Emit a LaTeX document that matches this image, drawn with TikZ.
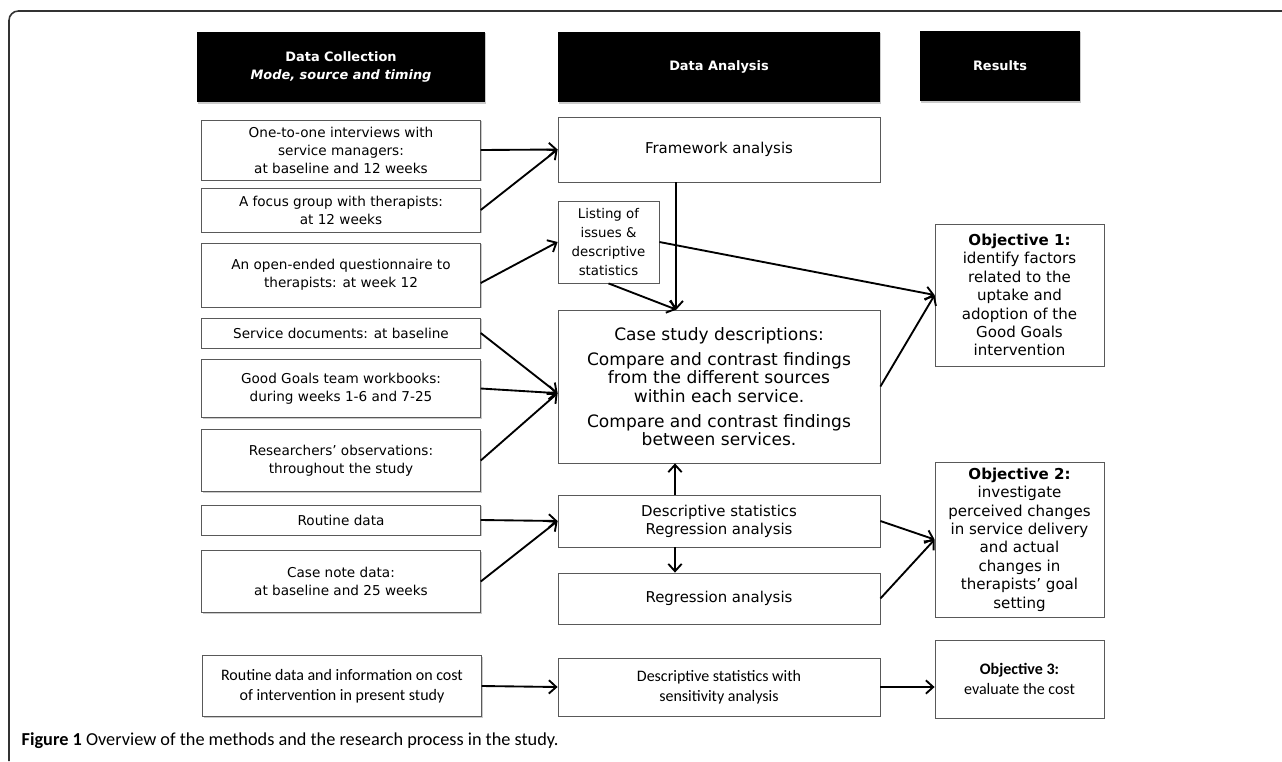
\documentclass[tikz,border=0pt]{standalone}
\usepackage{fontspec}
\setmainfont{DejaVu Sans}
\newfontfamily\narrowfont{Carlito}
\usetikzlibrary{arrows.meta,shadows}

\begin{document}
\begin{tikzpicture}[x=0.75pt,y=-0.75pt,
    box/.style={draw=black!65, line width=0.6pt, fill=white, align=center,
      inner sep=2pt, font=\fontsize{10.2}{13.5}\selectfont,
      drop shadow={shadow xshift=1pt, shadow yshift=-1pt, fill=black!35, opacity=0.6}},
    midbox/.style={box, font=\fontsize{11.2}{13.5}\selectfont},
    objbox/.style={box, font=\fontsize{11.3}{13.8}\selectfont},
    narrowbox/.style={box, font=\narrowfont\fontsize{12}{15}\selectfont},
    head/.style={fill=black, text=white, align=center,
      font=\bfseries\fontsize{9.7}{13}\selectfont, minimum height=53pt,
      drop shadow={shadow xshift=1pt, shadow yshift=-1pt, fill=black!35, opacity=0.6}},
    flow/.style={-{Straight Barb[length=5.5pt,width=10pt]}, line width=1.4pt}]

  \useasboundingbox (0,0) rectangle (1282,761);

  % frame round the figure
  \draw [line width=1.2pt, black!80, rounded corners=7pt]
        (1282,11) -- (9,11) -- (9,761);

  % column heads
  \node [head, minimum width=216pt] (hcoll) at (341,67)
        {Data Collection\\\textit{Mode, source and timing}};
  \node [head, minimum width=241.5pt] (hana) at (719,67) {Data Analysis};
  \node [head, minimum width=120pt] (hres) at (1000,66) {Results};

  % data collection
  \node [box, minimum width=209pt, minimum height=45pt] (interv) at (341,150)
        {One-to-one interviews with\\service managers:\\at baseline and 12 weeks};
  \node [box, minimum width=209pt, minimum height=33pt] (focus) at (341,210)
        {A focus group with therapists:\\at 12 weeks};
  \node [box, minimum width=209pt, minimum height=48pt] (quest) at (341,275)
        {An open-ended questionnaire to\\therapists: at week 12};
  \node [box, minimum width=209pt, minimum height=22.5pt] (docs) at (341,333)
        {Service documents: at baseline};
  \node [box, minimum width=209pt, minimum height=44pt] (workb) at (341,388.5)
        {Good Goals team workbooks:\\during weeks 1-6 and 7-25};
  \node [box, minimum width=209pt, minimum height=46pt] (observ) at (341,460.5)
        {Researchers’ observations:\\throughout the study};
  \node [box, minimum width=209pt, minimum height=22.5pt] (routine) at (341,520)
        {Routine data};
  \node [box, minimum width=209pt, minimum height=46pt] (casenote) at (341,581.5)
        {Case note data:\\at baseline and 25 weeks};
  \node [narrowbox, minimum width=209pt, minimum height=45.75pt] (cost) at (342,686)
        {Routine data and information on cost\\of intervention in present study};

  % data analysis
  \node [midbox, minimum width=241.5pt, minimum height=48.75pt] (frame) at (719,149.5)
        {Framework analysis};
  \node [box, font=\fontsize{10}{14.25}\selectfont, minimum width=75.75pt,
         minimum height=61.5pt] (listing) at (608.5,242)
        {Listing of\\issues \&\\descriptive\\statistics};
  \node [box, font=\fontsize{12.8}{13.8}\selectfont, minimum width=241.5pt,
         minimum height=114.75pt] (casestudy) at (719,386.5)
        {Case study descriptions:\\[5pt]
         Compare and contrast findings\\from the different sources\\within each service.\\[5pt]
         Compare and contrast findings\\between services.};
  \node [midbox, minimum width=241.5pt, minimum height=39pt] (descr) at (719,521)
        {Descriptive statistics\\Regression analysis};
  \node [midbox, minimum width=241.5pt, minimum height=38.25pt] (regr) at (719,598.5)
        {Regression analysis};
  \node [narrowbox, minimum width=241.5pt, minimum height=43.5pt] (sens) at (719,687)
        {Descriptive statistics with\\sensitivity analysis};

  % results
  \node [objbox, minimum width=126.75pt, minimum height=106.5pt] (obj1) at (1019.5,295)
        {\textbf{Objective 1:}\\identify factors\\related to the\\uptake and\\adoption of the\\Good Goals\\intervention};
  \node [objbox, minimum width=126.75pt, minimum height=116.25pt] (obj2) at (1019.5,539.5)
        {\textbf{Objective 2:}\\investigate\\perceived changes\\in service delivery\\and actual\\changes in\\therapists’ goal\\setting};
  \node [narrowbox, minimum width=126.75pt, minimum height=58.5pt] (obj3) at (1019.5,679)
        {\textbf{Objective 3:}\\evaluate the cost};

  % connectors
  \draw [flow] (interv.east) -- (frame.west);
  \draw [flow] (focus.east) -- (frame.west);
  \draw [flow] ([yshift=-6pt]quest.east) -- (listing.west);
  \draw [flow] (docs.east) -- ([yshift=-5pt]casestudy.west);
  \draw [flow] (workb.east) -- ([yshift=-5pt]casestudy.west);
  \draw [flow] (observ.east) -- ([yshift=-5pt]casestudy.west);
  \draw [flow] ([xshift=-32pt]frame.south) -- ([xshift=-32pt]casestudy.north);
  \draw [flow] (listing.south) -- ([xshift=-32pt]casestudy.north);
  \draw [flow] (listing.east) -- (obj1.west);
  \draw [flow] (casestudy.east) -- (obj1.west);
  \draw [flow] ([xshift=-33pt]descr.north) -- ([xshift=-33pt]casestudy.south);
  \draw [flow] ([xshift=-33pt]descr.south) -- ([xshift=-33pt]regr.north);
  \draw [flow] (routine.east) -- (descr.west);
  \draw [flow] (casenote.east) -- (descr.west);
  \draw [flow] (descr.east) -- (obj2.west);
  \draw [flow] (regr.east) -- (obj2.west);
  \draw [flow] (cost.east) -- (sens.west);
  \draw [flow] (sens.east) -- (sens.east -| obj3.west);

  \node [anchor=west, font=\narrowfont\fontsize{13.7}{16}\selectfont] (caption) at (17,741)
        {\textbf{Figure 1} Overview of the methods and the research process in the study.};

\end{tikzpicture}
\end{document}
